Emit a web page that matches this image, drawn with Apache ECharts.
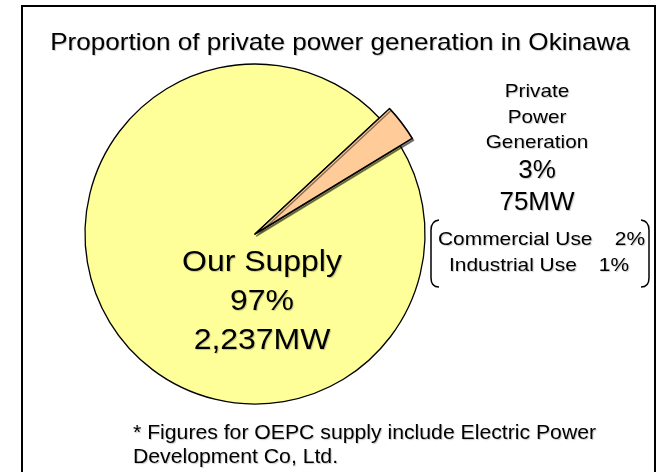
<!DOCTYPE html>
<html>
<head>
<meta charset="utf-8">
<script src="https://cdn.jsdelivr.net/npm/echarts@6/dist/echarts.min.js"></script>
<style>html,body{margin:0;padding:0;background:#fff;}#chart{width:660px;height:472px;}</style>
</head>
<body>
<div id="chart"></div>
<script>
const chartTitle = 'Proportion of private power generation in Okinawa';
const categories = ['Private Power Generation', 'Our Supply'];
const valuesMW = [75, 2237];
const sharesPct = [3, 97];
const breakdownNames = ['Commercial Use', 'Industrial Use'];
const breakdownPct = [2, 1];
const footnoteLines = ['* Figures for OEPC supply include Electric Power', 'Development Co, Ltd.'];

const FONT = '"Liberation Sans", Arial, sans-serif';
const sliceColors = ['#FFCC99', '#FFFF99'];
const fmt = v => v.toLocaleString('en-US');

function txt(text, x, y, size, sx, align) {
  return {
    type: 'text', x: x, y: y, scaleX: sx, silent: true, z: 100,
    style: {
      text: text, fontFamily: FONT, fontSize: size, fill: '#000',
      align: align || 'center', verticalAlign: 'middle',
      textShadowColor: 'rgba(0,0,0,0.22)', textShadowOffsetX: 1, textShadowOffsetY: 1, textShadowBlur: 1
    }
  };
}
const bstyle = {fill: 'none', stroke: '#000', lineWidth: 1.5};
function bline(x1, y1, x2, y2) {
  return {type: 'line', silent: true, z: 60, shape: {x1: x1, y1: y1, x2: x2, y2: y2}, style: bstyle};
}
function bcurve(x1, y1, cx, cy, x2, y2) {
  return {type: 'bezierCurve', silent: true, z: 60,
    shape: {x1: x1, y1: y1, cpx1: cx, cpy1: cy, x2: x2, y2: y2}, style: bstyle};
}

const chart = echarts.init(document.getElementById('chart'), null, {renderer: 'canvas'});

const center = [255, 234];
const baseData = categories.map((c, i) => ({
  name: c, value: valuesMW[i],
  itemStyle: i === 0
    ? {color: 'rgba(0,0,0,0)', borderWidth: 0}
    : {color: sliceColors[i], borderColor: '#000', borderWidth: 1.3}
}));
const topData = categories.map((c, i) => ({
  name: c, value: valuesMW[i],
  itemStyle: i === 0
    ? {color: sliceColors[i], borderColor: '#000', borderWidth: 1.5,
       shadowColor: 'rgba(0,0,0,0.45)', shadowOffsetX: 1.5, shadowOffsetY: 2, shadowBlur: 0}
    : {color: 'rgba(0,0,0,0)', borderWidth: 0}
}));

const graphics = [
  {type: 'rect', shape: {x: 22, y: 6, width: 633, height: 490}, silent: true,
   style: {fill: 'none', stroke: '#000', lineWidth: 2}, z: 50},
  txt(chartTitle, 340, 43.5, 24, 1.086, 'center'),
  txt(categories[1], 262, 263, 30, 1.065, 'center'),
  txt(sharesPct[1] + '%', 262, 302, 30, 1.065, 'center'),
  txt(fmt(valuesMW[1]) + 'MW', 262, 341, 30, 1.065, 'center'),
  txt('Private', 537, 91.5, 19, 1.09, 'center'),
  txt('Power', 537, 117.5, 19, 1.09, 'center'),
  txt('Generation', 537, 142.5, 19, 1.09, 'center'),
  txt(sharesPct[0] + '%', 537, 171, 25, 1.04, 'center'),
  txt(fmt(valuesMW[0]) + 'MW', 537, 203, 25, 1.04, 'center'),
  txt(breakdownNames[0], 438, 240, 19, 1.1, 'left'),
  txt(breakdownPct[0] + '%', 645, 240, 19, 1.1, 'right'),
  txt(breakdownNames[1], 449, 266, 19, 1.1, 'left'),
  txt(breakdownPct[1] + '%', 629, 266, 19, 1.1, 'right'),
  bcurve(439, 220, 431, 221, 431, 230),
  bline(431, 230, 431, 278),
  bcurve(431, 278, 431, 287, 439, 287),
  bcurve(641, 220, 649, 221, 649, 230),
  bline(649, 230, 649, 278),
  bcurve(649, 278, 649, 287, 641, 287),
  txt(footnoteLines[0], 133, 433, 20, 1.06, 'left'),
  txt(footnoteLines[1], 133, 457.5, 20, 1.06, 'left')
];

chart.setOption({
  animation: false,
  backgroundColor: '#fff',
  series: [
    {type: 'pie', center: center, radius: [0, 170], startAngle: 43, clockwise: true,
     label: {show: false}, labelLine: {show: false}, silent: true, z: 2,
     emphasis: {disabled: true}, data: baseData},
    {type: 'pie', center: center, radius: [0, 184], startAngle: 43, clockwise: true,
     label: {show: false}, labelLine: {show: false}, silent: true, z: 3,
     emphasis: {disabled: true}, data: topData}
  ],
  graphic: graphics
});
</script>
</body>
</html>
